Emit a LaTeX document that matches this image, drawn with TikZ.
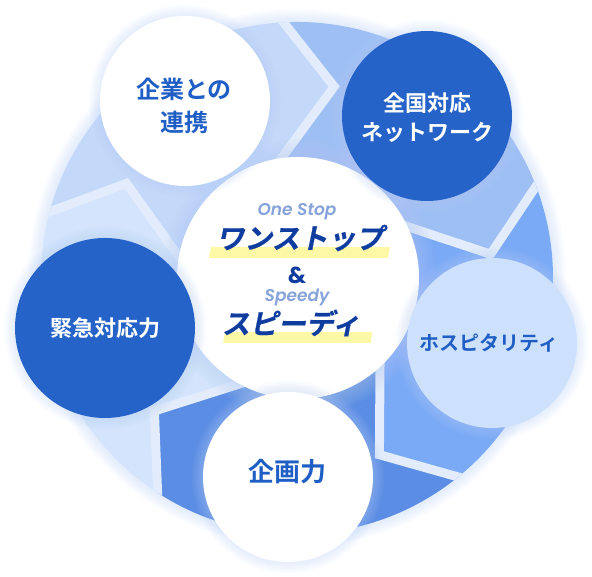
\documentclass[tikz,border=0pt]{standalone}
\usepackage{fontspec}
\usetikzlibrary{calc}
\newfontfamily\jpfont{Noto Sans CJK JP Bold}
\newfontfamily\jpslant{Noto Sans CJK JP Bold}[FakeSlant=0.2,FakeBold=0.6]
\newfontfamily\enfont{Poppins SemiBold Italic}
\newfontfamily\ampfont{Poppins Bold}
\definecolor{segA}{HTML}{C4D9FA}
\definecolor{segB}{HTML}{9EBFF3}
\definecolor{segC}{HTML}{7AA9F5}
\definecolor{segD}{HTML}{5A8DE3}
\definecolor{segE}{HTML}{D3E4FC}
\definecolor{gapc}{HTML}{E2ECFC}
\definecolor{glowc}{HTML}{B9D0F7}
\definecolor{darkc}{HTML}{2563C8}
\definecolor{palec}{HTML}{CDE0FC}
\definecolor{txtc}{HTML}{1F5EC4}
\definecolor{navyc}{HTML}{0E3C9F}
\definecolor{subc}{HTML}{86A3DA}
\definecolor{markc}{HTML}{FCF8A6}
\begin{document}
\begin{tikzpicture}[x=1pt,y=1pt,
    bubble/.style={circle,inner sep=0pt,draw=none},
    gap/.style={gapc,line width=9pt,line join=miter},
    jp/.style={align=center,inner sep=0pt}]
  \useasboundingbox (0,0) rectangle (592,577);
  \coordinate (ring) at (297,299);
  % ring glow
  \foreach \g in {1,...,8}
    \fill[glowc,opacity=.06] (ring) circle ({256+1.6*\g});
  % ring segments
  \begin{scope}[shift={(ring)}]
    \clip (0,0) circle (256);
    \foreach \a/\b/\c in {165/93/segA,93/21/segB,21/-51/segC,-51/-123/segD,-123/-195/segE}
      \fill[\c] (0,0) -- ($(\a-14:195)!1.7!(\a+3:124)$) -- (\a-14:195)
        -- ($(\a-14:195)!1.6!(\a:256)$) -- (\a:330) arc[start angle=\a,end angle=\b,radius=330]
        -- ($(\b-14:195)!1.6!(\b:256)$) -- (\b-14:195) -- ($(\b-14:195)!1.7!(\b+3:124)$) -- cycle;
    \foreach \a in {93,21,-51,-123,-195}
      \draw[gap] ($(\a-14:195)!1.6!(\a:256)$) -- (\a-14:195) -- ($(\a-14:195)!1.7!(\a+3:124)$);
  \end{scope}
  % centre circle
  \foreach \g in {1,...,10}
    \fill[glowc,opacity=.05] (298,299) circle ({121+1.8*\g});
  \node[bubble,fill=white,minimum size=242pt] (core) at (298,299) {};
  % outer circles
  \foreach \n/\x/\y/\r/\c in {kinkyu/105/249/90/darkc,renkei/185/476/85/white,
      network/427/461/85/darkc,hospitality/492/234/85/palec,kikaku/288/100/85/white}{
    \foreach \g in {1,...,7}
      \fill[glowc,opacity=.06] (\x,\y) circle ({\r+1.6*\g});
    \node[bubble,fill=\c,minimum size=2*\r] (\n) at (\x,\y) {};
  }
  % labels
  \node[jp,text=txtc,font=\jpfont\fontsize{24}{33}\selectfont] (renkeitxt) at (184,471) {企業との\\連携};
  \node[jp,text=white,font=\jpfont\fontsize{22}{29}\selectfont] (networktxt) at (427,459) {全国対応\\ネットワーク};
  \node[jp,text=white,font=\jpfont\fontsize{22}{22}\selectfont] (kinkyutxt) at (105,249) {緊急対応力};
  \node[jp,text=txtc,font=\jpfont\fontsize{20}{20}\selectfont] (hospitalitytxt) at (489,234) {ホスピタリティ};
  \node[jp,text=txtc,font=\jpfont\fontsize{26}{26}\selectfont] (kikakutxt) at (287,105) {企画力};
  % centre texts
  \fill[markc] (211,330) -- (390,330) -- (388,319) -- (209,319) -- cycle;
  \fill[markc] (225,245) -- (372,245) -- (371,234) -- (223,234) -- cycle;
  \node[jp,text=subc,font=\enfont\fontsize{17}{17}\selectfont] (onestop) at (297,365) {One Stop};
  \node[jp,text=navyc,font=\jpslant\fontsize{28}{28}\selectfont] (onestopjp) at (300,339) {ワンストップ};
  \node[jp,text=navyc,font=\ampfont\fontsize{23}{23}\selectfont] (amp) at (297,302) {\&};
  \node[jp,text=subc,font=\enfont\fontsize{17}{17}\selectfont] (speedy) at (297,280) {Speedy};
  \node[jp,text=navyc,font=\jpslant\fontsize{28}{28}\selectfont] (speedyjp) at (291,254) {スピーディ};
\end{tikzpicture}
\end{document}
